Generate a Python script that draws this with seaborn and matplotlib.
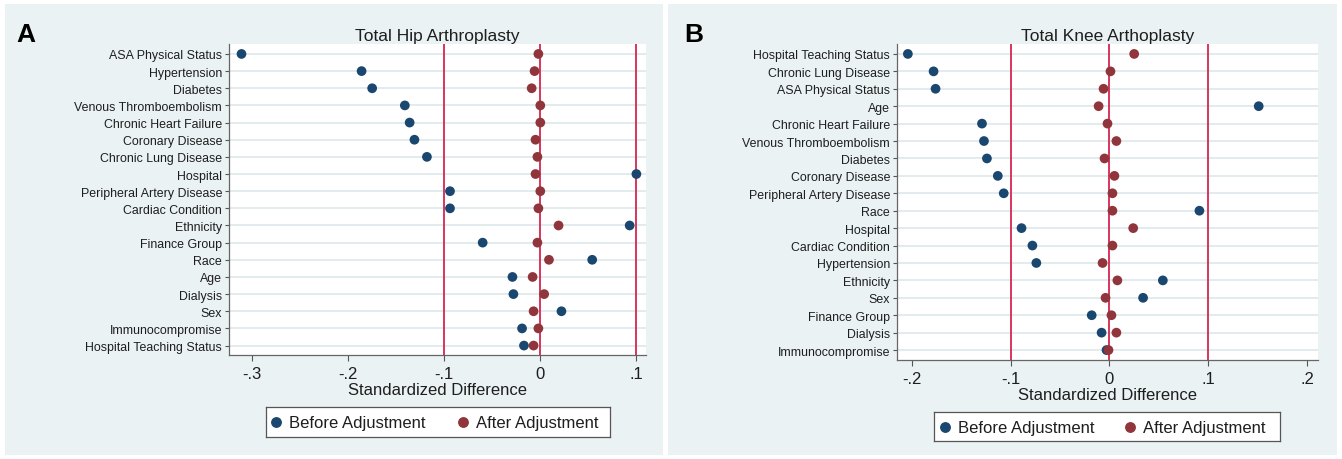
import matplotlib
matplotlib.use("Agg")
import matplotlib.pyplot as plt
from matplotlib.patches import Rectangle
import seaborn as sns
import pandas as pd

sns.set_theme(style="white")
plt.rcParams['font.family'] = ['Liberation Sans', 'DejaVu Sans']

# ---------------- data ----------------
hip_vars = ["ASA Physical Status", "Hypertension", "Diabetes", "Venous Thromboembolism",
            "Chronic Heart Failure", "Coronary Disease", "Chronic Lung Disease", "Hospital",
            "Peripheral Artery Disease", "Cardiac Condition", "Ethnicity", "Finance Group",
            "Race", "Age", "Dialysis", "Sex", "Immunocompromise", "Hospital Teaching Status"]
hip_before = [-0.311, -0.186, -0.175, -0.141, -0.136, -0.131, -0.118, 0.100,
              -0.094, -0.094, 0.093, -0.060, 0.054, -0.029, -0.028, 0.022, -0.019, -0.017]
hip_after = [-0.002, -0.006, -0.009, 0.000, 0.000, -0.005, -0.003, -0.005,
             0.000, -0.002, 0.019, -0.003, 0.009, -0.008, 0.004, -0.007, -0.002, -0.007]

knee_vars = ["Hospital Teaching Status", "Chronic Lung Disease", "ASA Physical Status", "Age",
             "Chronic Heart Failure", "Venous Thromboembolism", "Diabetes", "Coronary Disease",
             "Peripheral Artery Disease", "Race", "Hospital", "Cardiac Condition",
             "Hypertension", "Ethnicity", "Sex", "Finance Group", "Dialysis", "Immunocompromise"]
knee_before = [-0.204, -0.178, -0.176, 0.151, -0.129, -0.127, -0.124, -0.113,
               -0.107, 0.091, -0.089, -0.078, -0.074, 0.054, 0.034, -0.018, -0.008, -0.003]
knee_after = [0.025, 0.001, -0.006, -0.011, -0.002, 0.007, -0.005, 0.005,
              0.003, 0.003, 0.024, 0.003, -0.007, 0.008, -0.004, 0.002, 0.007, -0.001]

hip_ticks = [-0.3, -0.2, -0.1, 0.0, 0.1]
hip_ticklabels = ["-.3", "-.2", "-.1", "0", ".1"]
knee_ticks = [-0.2, -0.1, 0.0, 0.1, 0.2]
knee_ticklabels = ["-.2", "-.1", "0", ".1", ".2"]
ref_lines = [-0.1, 0.0, 0.1]
series_names = ["Before Adjustment", "After Adjustment"]

# ---------------- style ----------------
BG = "#eaf2f3"
BLUE = "#1a476f"
MAROON = "#90353b"
REDLINE = "#d8365c"
GRID = "#e2ebee"
TXT = "#1e1e1e"
palette = {series_names[0]: BLUE, series_names[1]: MAROON}

W, H = 1342, 460
fig = plt.figure(figsize=(W / 100, H / 100), dpi=100)
fig.patch.set_facecolor("white")

# panel backgrounds
for (x0, x1) in [(5, 663), (668, 1337)]:
    fig.add_artist(Rectangle((x0 / W, 1 - 456 / H), (x1 - x0) / W, (456 - 5) / H,
                             transform=fig.transFigure, facecolor=BG, edgecolor="none", zorder=0))


def make_long(vars_, before, after):
    return pd.DataFrame({
        "var": vars_ * 2,
        "val": before + after,
        "series": [series_names[0]] * len(vars_) + [series_names[1]] * len(vars_),
    })


def panel(rect, vars_, before, after, title, ticks, ticklabels, xlim, ylim, letter, letter_x,
          legend_box, leg_pos):
    ax = fig.add_axes(rect)
    ax.set_facecolor("white")
    df = make_long(vars_, before, after)
    for yi in range(len(vars_)):
        ax.axhline(yi, color=GRID, lw=1.4, zorder=0)
    for xv in ref_lines:
        ax.axvline(xv, color=REDLINE, lw=1.4, zorder=1)
    sns.stripplot(data=df, x="val", y="var", hue="series", order=vars_, palette=palette,
                  jitter=False, dodge=False, size=7.0, linewidth=0, ax=ax, zorder=3,
                  legend=False)
    ax.set_xlim(*xlim)
    ax.set_ylim(*ylim)
    ax.set_xticks(ticks)
    ax.set_xticklabels(ticklabels, fontsize=12, color=TXT)
    ax.tick_params(axis="y", labelsize=8.9, labelcolor=TXT, length=3, width=0.8,
                   color="#555555", left=True, pad=2)
    ax.tick_params(axis="x", length=4, width=0.8, color="#555555", bottom=True, pad=4)
    ax.set_ylabel("")
    ax.set_xlabel("Standardized Difference", fontsize=12, color=TXT, labelpad=1)
    ax.set_title(title, fontsize=12.5, color=TXT, pad=3)
    for s in ["top", "right"]:
        ax.spines[s].set_visible(False)
    for s in ["left", "bottom"]:
        ax.spines[s].set_color("#666666")
        ax.spines[s].set_linewidth(0.9)
    ax.grid(False)
    fig.text(letter_x / W, 1 - 35 / H, letter, fontsize=19, fontweight="bold",
             color="black", va="center", ha="left")
    # legend box
    lx0, ly0, lx1, ly1 = legend_box
    lax = fig.add_axes([lx0 / W, 1 - ly1 / H, (lx1 - lx0) / W, (ly1 - ly0) / H])
    lax.set_xticks([]); lax.set_yticks([])
    lax.set_xlim(0, 1); lax.set_ylim(0, 1)
    lax.set_facecolor("white")
    for s in lax.spines.values():
        s.set_color("#555555"); s.set_linewidth(0.9)
    for name, (mx, tx) in zip(series_names, leg_pos):
        lax.plot([mx], [0.5], marker="o", ls="", color=palette[name], markersize=6.8)
        lax.text(tx, 0.47, name, fontsize=12, color=TXT, va="center", ha="left")
    return ax


panel([229 / W, 1 - 356 / H, (646 - 229) / W, (356 - 45) / H], hip_vars, hip_before, hip_after,
      "Total Hip Arthroplasty", hip_ticks, hip_ticklabels, (-0.324, 0.110), (17.55, -0.58),
      "A", 16, (266, 408, 610, 438), [(0.03, 0.068), (0.573, 0.611)])
panel([897 / W, 1 - 361 / H, (1318 - 897) / W, (361 - 45) / H], knee_vars, knee_before, knee_after,
      "Total Knee Arthoplasty", knee_ticks, knee_ticklabels, (-0.215, 0.211), (17.57, -0.57),
      "B", 684, (934, 413, 1280, 442), [(0.032, 0.07), (0.566, 0.604)])

fig.savefig("out.png", dpi=100, facecolor="white")
